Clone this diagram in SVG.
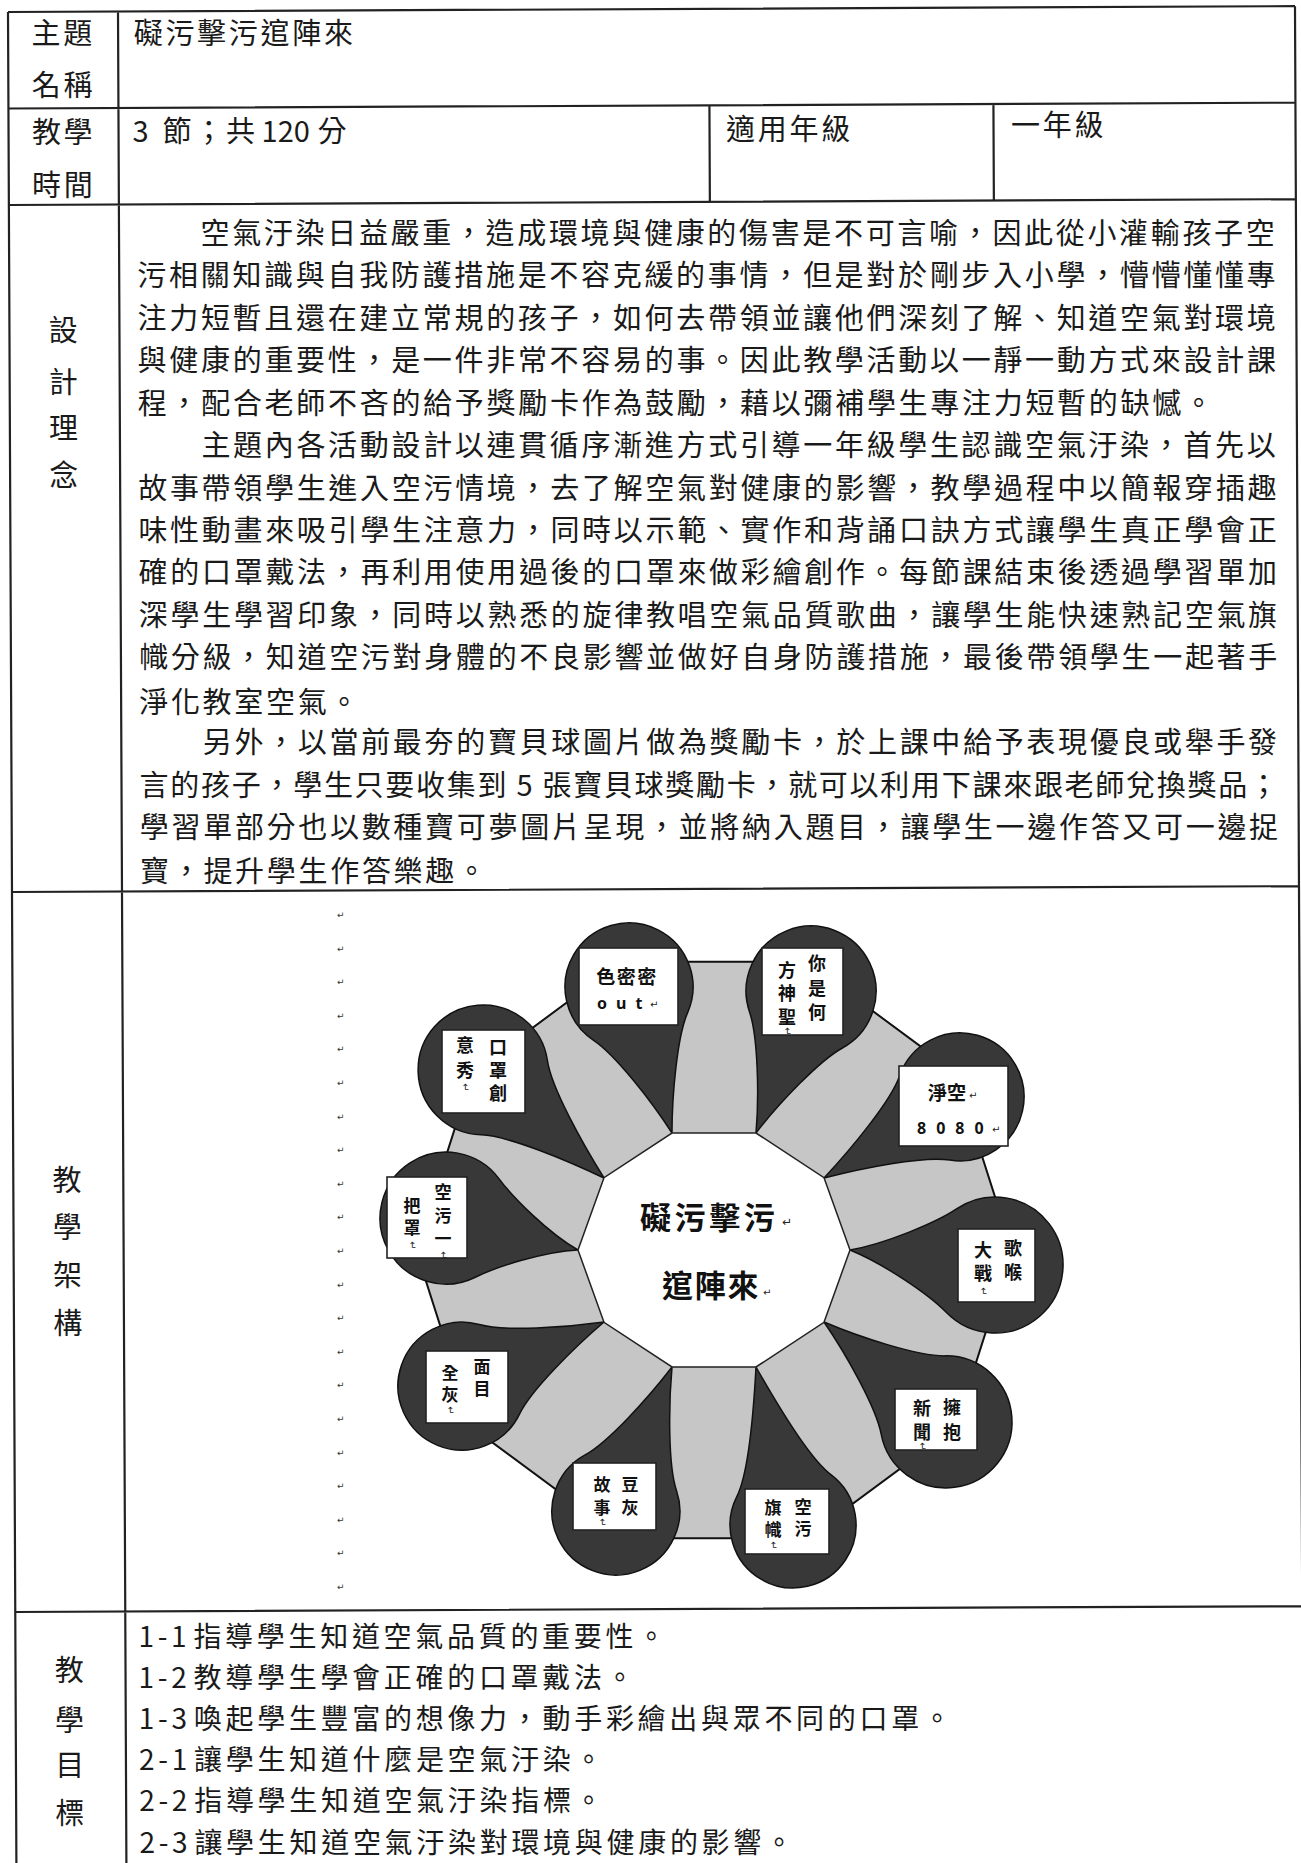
<svg xmlns="http://www.w3.org/2000/svg" width="1301" height="1863" viewBox="0 0 1301 1863" xml:lang="zh-Hant">
<style>
.t{font-family:"Noto Sans CJK TC","Noto Sans CJK SC",sans-serif;font-size:29px;letter-spacing:2.7px;fill:#1a1a1a}
.g{font-size:28px;letter-spacing:3.7px}
.m{text-anchor:middle}
.ln{stroke:#222;stroke-width:2.2;fill:none}
.b{font-family:"Noto Sans CJK TC","Noto Sans CJK SC",sans-serif;font-weight:700;font-size:18px;fill:#111;text-anchor:middle}
.s{font-size:17px}
.c{font-family:"Noto Sans CJK TC","Noto Sans CJK SC",sans-serif;font-weight:700;font-size:31px;fill:#111}
.lat{font-family:"Noto Sans","DejaVu Sans",sans-serif;font-weight:700;fill:#111}
.mk{font-family:"DejaVu Sans",sans-serif;font-size:9px;fill:#333}
.pm{font-family:"DejaVu Sans",sans-serif;font-size:10px;fill:#222}
.drop{fill:#383838;stroke:#111;stroke-width:1.5}
.box{fill:#fff;stroke:#222;stroke-width:1.6}
</style>
<rect width="1301" height="1863" fill="#fff"/>
<g id="table">
  <g id="grid" class="ln" transform="rotate(-0.26 8 12)">
    <path d="M8,12H1295M8,108.5H1295M8,205H1295M8,892H1295M8,1612H1295M8,12V1900M118,12V1900M1295,12V1900M709,108.5V205M993,108.5V205"/>
  </g>
  <g id="row-title">
    <text class="t m" x="63.2" y="44.3">主題</text>
    <text class="t m" x="63.4" y="95.8">名稱</text>
    <text class="t" x="133.7" y="43.5">礙污擊污逭陣來</text>
  </g>
  <g id="row-time">
    <text class="t m" x="63.6" y="142.8">教學</text>
    <text class="t m" x="63.8" y="195.8">時間</text>
    <text class="t" y="142"><tspan x="132.6">3</tspan><tspan x="162.6">節；共</tspan><tspan x="261.6" style="letter-spacing:0">120</tspan><tspan x="317.6">分</tspan></text>
    <text class="t" x="726.1" y="139.5">適用年級</text>
    <text class="t" x="1011.1" y="135.7">一年級</text>
  </g>
  <g id="row-concept">
    <text class="t m" x="64.5" y="340.8">設</text>
    <text class="t m" x="64.7" y="392.8">計</text>
    <text class="t m" x="64.9" y="439.3">理</text>
    <text class="t m" x="65.2" y="485.8">念</text>
    <text class="t" x="200.5" y="243.8" textLength="1077" lengthAdjust="spacing">空氣汙染日益嚴重，造成環境與健康的傷害是不可言喻，因此從小灌輸孩子空</text>
    <text class="t" x="137.3" y="286.3" textLength="1141" lengthAdjust="spacing">污相關知識與自我防護措施是不容克緩的事情，但是對於剛步入小學，懵懵懂懂專</text>
    <text class="t" x="137.5" y="328.7" textLength="1141" lengthAdjust="spacing">注力短暫且還在建立常規的孩子，如何去帶領並讓他們深刻了解、知道空氣對環境</text>
    <text class="t" x="137.6" y="371.2" textLength="1141" lengthAdjust="spacing">與健康的重要性，是一件非常不容易的事。因此教學活動以一靜一動方式來設計課</text>
    <text class="t" x="137.8" y="413.8">程，配合老師不吝的給予獎勵卡作為鼓勵，藉以彌補學生專注力短暫的缺憾。</text>
    <text class="t" x="201.4" y="456.1" textLength="1077" lengthAdjust="spacing">主題內各活動設計以連貫循序漸進方式引導一年級學生認識空氣汙染，首先以</text>
    <text class="t" x="138.2" y="498.5" textLength="1141" lengthAdjust="spacing">故事帶領學生進入空污情境，去了解空氣對健康的影響，教學過程中以簡報穿插趣</text>
    <text class="t" x="138.4" y="541" textLength="1141" lengthAdjust="spacing">味性動畫來吸引學生注意力，同時以示範、實作和背誦口訣方式讓學生真正學會正</text>
    <text class="t" x="138.6" y="583.4" textLength="1141" lengthAdjust="spacing">確的口罩戴法，再利用使用過後的口罩來做彩繪創作。每節課結束後透過學習單加</text>
    <text class="t" x="138.8" y="625.9" textLength="1141" lengthAdjust="spacing">深學生學習印象，同時以熟悉的旋律教唱空氣品質歌曲，讓學生能快速熟記空氣旗</text>
    <text class="t" x="139" y="668.3" textLength="1141" lengthAdjust="spacing">幟分級，知道空污對身體的不良影響並做好自身防護措施，最後帶領學生一起著手</text>
    <text class="t" x="139.2" y="712.9">淨化教室空氣。</text>
    <text class="t" x="202.8" y="753.2" textLength="1077" lengthAdjust="spacing">另外，以當前最夯的寶貝球圖片做為獎勵卡，於上課中給予表現優良或舉手發</text>
    <text class="t" x="139.6" y="795.7" textLength="1141" lengthAdjust="spacing">言的孩子，學生只要收集到 5 張寶貝球獎勵卡，就可以利用下課來跟老師兌換獎品；</text>
    <text class="t" x="139.8" y="838.1" textLength="1141" lengthAdjust="spacing">學習單部分也以數種寶可夢圖片呈現，並將納入題目，讓學生一邊作答又可一邊捉</text>
    <text class="t" x="140" y="882.4">寶，提升學生作答樂趣。</text>
  </g>
  <g id="row-framework-label">
    <text class="t m" x="68.4" y="1191">教</text>
    <text class="t m" x="68.6" y="1238">學</text>
    <text class="t m" x="68.8" y="1286">架</text>
    <text class="t m" x="69" y="1334">構</text>
  </g>
  <g id="row-goals">
    <text class="t m" x="70.6" y="1681">教</text>
    <text class="t m" x="70.8" y="1731">學</text>
    <text class="t m" x="71" y="1776">目</text>
    <text class="t m" x="71.2" y="1824">標</text>
    <text class="t g" y="1646.6"><tspan x="138.4">1-1</tspan><tspan x="193.4">指導學生知道空氣品質的重要性。</tspan></text>
    <text class="t g" y="1687.8"><tspan x="138.6">1-2</tspan><tspan x="193.6">教導學生學會正確的口罩戴法。</tspan></text>
    <text class="t g" y="1729"><tspan x="138.8">1-3</tspan><tspan x="193.8">喚起學生豐富的想像力，動手彩繪出與眾不同的口罩。</tspan></text>
    <text class="t g" y="1770.2"><tspan x="139">2-1</tspan><tspan x="194">讓學生知道什麼是空氣汙染。</tspan></text>
    <text class="t g" y="1811.4"><tspan x="139.2">2-2</tspan><tspan x="194.2">指導學生知道空氣汙染指標。</tspan></text>
    <text class="t g" y="1852.6"><tspan x="139.4">2-3</tspan><tspan x="194.4">讓學生知道空氣汙染對環境與健康的影響。</tspan></text>
  </g>
</g>
<g id="para-marks" class="mk">
  <text x="337" y="918">↵</text><text x="337" y="951.6">↵</text><text x="337" y="985.2">↵</text><text x="337" y="1018.8">↵</text><text x="337" y="1052.4">↵</text><text x="337" y="1086">↵</text><text x="337" y="1119.6">↵</text><text x="337" y="1153.2">↵</text><text x="337" y="1186.8">↵</text><text x="337" y="1220.4">↵</text><text x="337" y="1254">↵</text><text x="337" y="1287.6">↵</text><text x="337" y="1321.2">↵</text><text x="337" y="1354.8">↵</text><text x="337" y="1388.4">↵</text><text x="337" y="1422">↵</text><text x="337" y="1455.6">↵</text><text x="337" y="1489.2">↵</text><text x="337" y="1522.8">↵</text><text x="337" y="1556.4">↵</text><text x="337" y="1590">↵</text>
</g>
<g id="diagram">
  <polygon id="outer-ring" points="1012,1250 955.1,1428.1 806.1,1538.2 621.9,1538.2 472.9,1428.1 416,1250 472.9,1071.9 621.9,961.8 806.1,961.8 955.1,1071.9" fill="#c6c6c6" stroke="#111" stroke-width="2"/>
  <g id="node-gehou">
    <path class="drop" transform="translate(850,1250) rotate(5.9)" d="M0,0C35,10.2 83.1,36.2 102.1,52.1A68,68 0 1 0 102.1,-52.1C83.1,-36.2 35,-10.2 0,0Z"/>
    <rect class="box" x="958" y="1229" width="77" height="73"/>
    <text class="b"><tspan x="1013" y="1254.5">歌</tspan><tspan x="1013" y="1278.5">喉</tspan><tspan x="983" y="1256.5">大</tspan><tspan x="983" y="1279.5">戰</tspan></text>
    <text class="pm" transform="translate(980,1287) rotate(90)">↵</text>
  </g>
  <g id="node-yongbao">
    <path class="drop" transform="translate(824,1322) rotate(39.3)" d="M0,0C37.8,11 94.8,33.3 115.3,50.6A66,66 0 1 0 115.3,-50.6C94.8,-33.3 37.8,-11 0,0Z"/>
    <rect class="box" x="895" y="1389" width="82" height="61"/>
    <text class="b"><tspan x="952" y="1413.5">擁</tspan><tspan x="952" y="1438.5">抱</tspan><tspan x="922" y="1414.5">新</tspan><tspan x="922" y="1438.5">聞</tspan></text>
    <text class="pm" transform="translate(919,1442) rotate(90)">↵</text>
  </g>
  <g id="node-qizhi">
    <path class="drop" transform="translate(756,1367) rotate(76.8)" d="M0,0C39,11.4 100.7,30.5 121.8,48.3A63,63 0 1 0 121.8,-48.3C100.7,-30.5 39,-11.4 0,0Z"/>
    <rect class="box" x="745" y="1489" width="84" height="65"/>
    <text class="b s"><tspan x="803" y="1512.5">空</tspan><tspan x="803" y="1534.5">污</tspan><tspan x="773" y="1514">旗</tspan><tspan x="773" y="1536">幟</tspan></text>
    <text class="pm" transform="translate(770,1541) rotate(90)">↵</text>
  </g>
  <g id="node-douhui">
    <path class="drop" transform="translate(672,1367) rotate(111.3)" d="M0,0C37.1,10.8 93.2,32.1 113.4,49A64,64 0 1 0 113.4,-49C93.2,-32.1 37.1,-10.8 0,0Z"/>
    <rect class="box" x="573" y="1463" width="83" height="67"/>
    <text class="b s"><tspan x="630" y="1491">豆</tspan><tspan x="630" y="1513.5">灰</tspan><tspan x="602" y="1491">故</tspan><tspan x="602" y="1513.5">事</tspan></text>
    <text class="pm" transform="translate(599,1518) rotate(90)">↵</text>
  </g>
  <g id="node-mianmu">
    <path class="drop" transform="translate(604,1322) rotate(155.7)" d="M0,0C37.4,10.9 94.4,32 114.7,49A64,64 0 1 0 114.7,-49C94.4,-32 37.4,-10.9 0,0Z"/>
    <rect class="box" x="426" y="1351" width="82" height="72"/>
    <text class="b s"><tspan x="482" y="1373">面</tspan><tspan x="482" y="1395">目</tspan><tspan x="450" y="1379">全</tspan><tspan x="450" y="1401">灰</tspan></text>
    <text class="pm" transform="translate(447,1406) rotate(90)">↵</text>
  </g>
  <g id="node-yibazhao">
    <path class="drop" transform="translate(578,1250) rotate(193.6)" d="M0,0C32.6,9.5 75.7,35.7 93.4,50.6A66,66 0 1 0 93.4,-50.6C75.7,-35.7 32.6,-9.5 0,0Z"/>
    <rect class="box" x="387" y="1177" width="80" height="81"/>
    <text class="b s"><tspan x="443" y="1198">空</tspan><tspan x="443" y="1222">污</tspan><tspan x="443" y="1245">一</tspan><tspan x="412" y="1212">把</tspan><tspan x="412" y="1234">罩</tspan></text>
    <text class="pm" transform="translate(409,1241) rotate(90)">↵</text>
    <text class="pm" transform="translate(440,1251) rotate(90)">↵</text>
  </g>
  <g id="node-kouzhao">
    <path class="drop" transform="translate(604,1178) rotate(221.8)" d="M0,0C38.9,11.4 99.3,32.1 120.4,49.8A65,65 0 1 0 120.4,-49.8C99.3,-32.1 38.9,-11.4 0,0Z"/>
    <rect class="box" x="442" y="1030" width="83" height="83"/>
    <text class="b"><tspan x="498" y="1053.5">口</tspan><tspan x="498" y="1076.5">罩</tspan><tspan x="498" y="1099.5">創</tspan><tspan x="465" y="1051.5">意</tspan><tspan x="465" y="1076.5">秀</tspan></text>
    <text class="pm" transform="translate(462,1083) rotate(90)">↵</text>
  </g>
  <g id="node-semimi">
    <path class="drop" transform="translate(672,1133) rotate(253.6)" d="M0,0C36.5,10.7 91.3,32.4 111.1,49A64,64 0 1 0 111.1,-49C91.3,-32.4 36.5,-10.7 0,0Z"/>
    <rect class="box" x="579" y="948" width="99" height="77"/>
    <text class="b" x="627" y="984" style="font-size:19px;letter-spacing:1.5px">色密密</text>
    <text class="lat" x="597" y="1008.5" style="font-size:16px;letter-spacing:9px">out</text>
    <text class="pm" x="650" y="1008">↵</text>
  </g>
  <g id="node-shensheng">
    <path class="drop" transform="translate(756,1133) rotate(291.2)" d="M0,0C36.6,10.7 90.7,33.2 110.5,49.8A65,65 0 1 0 110.5,-49.8C90.7,-33.2 36.6,-10.7 0,0Z"/>
    <rect class="box" x="762" y="948" width="81" height="87"/>
    <text class="b"><tspan x="817" y="969.5">你</tspan><tspan x="817" y="994.5">是</tspan><tspan x="817" y="1018.5">何</tspan><tspan x="787" y="976.5">方</tspan><tspan x="787" y="999.5">神</tspan><tspan x="787" y="1023.5">聖</tspan></text>
    <text class="pm" transform="translate(784,1027) rotate(90)">↵</text>
  </g>
  <g id="node-jingkong">
    <path class="drop" transform="translate(824,1178) rotate(329.2)" d="M0,0C38,11.1 96.6,31.7 117.2,49A64,64 0 1 0 117.2,-49C96.6,-31.7 38,-11.1 0,0Z"/>
    <rect class="box" x="899" y="1066" width="109" height="80"/>
    <text class="b" x="928" y="1100" style="text-anchor:start;font-size:19px">淨空</text>
    <text class="pm" x="969" y="1099">↵</text>
    <text class="lat" x="917" y="1134" style="font-size:16px;letter-spacing:10px">8080</text>
    <text class="pm" x="992" y="1133">↵</text>
  </g>
  <g id="node-center">
    <polygon points="850,1250 824,1322.3 756,1367 672,1367 604,1322.3 578,1250 604,1177.7 672,1133 756,1133 824,1177.7" fill="#fff" stroke="#222" stroke-width="1.5"/>
    <text class="c" x="640" y="1229" style="letter-spacing:3.6px">礙污擊污</text>
    <text class="pm" x="782" y="1226" style="font-size:12px">↵</text>
    <text class="c" x="662" y="1297" style="letter-spacing:1.8px">逭陣來</text>
    <text class="pm" x="763" y="1296">↵</text>
  </g>
</g>
</svg>
